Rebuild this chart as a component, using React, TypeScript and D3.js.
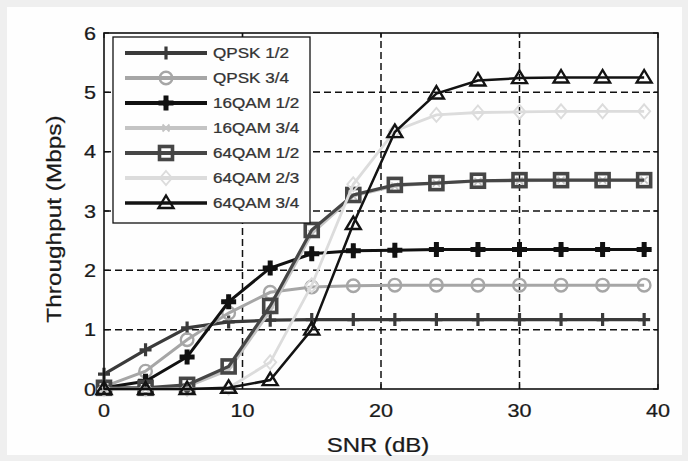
import React from 'react';
import * as d3 from 'd3';

const snr = [0, 3, 6, 9, 12, 15, 18, 21, 24, 27, 30, 33, 36, 39];
const qpsk12 = [0.25, 0.66, 1.03, 1.13, 1.16, 1.17, 1.17, 1.17, 1.17, 1.17, 1.17, 1.17, 1.17, 1.17];
const qpsk34 = [0.04, 0.3, 0.83, 1.28, 1.63, 1.72, 1.74, 1.75, 1.75, 1.75, 1.75, 1.75, 1.75, 1.75];
const qam16_12 = [0.02, 0.13, 0.54, 1.47, 2.04, 2.28, 2.33, 2.34, 2.35, 2.35, 2.35, 2.35, 2.35, 2.35];
const qam16_34 = [0.0, 0.01, 0.04, 0.32, 1.32, 2.62, 3.25, 3.42, 3.47, 3.5, 3.51, 3.52, 3.52, 3.52];
const qam64_12 = [0.02, 0.02, 0.07, 0.38, 1.4, 2.68, 3.27, 3.44, 3.47, 3.51, 3.52, 3.52, 3.52, 3.52];
const qam64_23 = [0.0, 0.0, 0.0, 0.02, 0.45, 1.75, 3.45, 4.35, 4.62, 4.66, 4.67, 4.68, 4.68, 4.68];
const qam64_34 = [0.0, 0.0, 0.0, 0.02, 0.15, 1.0, 2.78, 4.33, 4.98, 5.2, 5.24, 5.25, 5.25, 5.25];

const seriesNames = ['QPSK 1/2', 'QPSK 3/4', '16QAM 1/2', '16QAM 3/4', '64QAM 1/2', '64QAM 2/3', '64QAM 3/4'];
const seriesValues = [qpsk12, qpsk34, qam16_12, qam16_34, qam64_12, qam64_23, qam64_34];
const seriesColors = ['#3a3a3a', '#a6a6a6', '#111111', '#c4c4c4', '#464646', '#dcdcdc', '#131313'];
const seriesMarkers = ['plus', 'circle', 'star', 'x', 'square', 'diamond', 'triangle'];
const seriesWidths = [3.2, 3, 3, 3, 3.2, 2.8, 2.5];

const xTicks = [0, 10, 20, 30, 40];
const yTicks = [0, 1, 2, 3, 4, 5, 6];

const W = 688;
const H = 461;
const FONT = "'Liberation Sans', Arial, Helvetica, sans-serif";

const x = d3.scaleLinear().domain([0, 40]).range([104, 658]);
const y = d3.scaleLinear().domain([0, 6]).range([389, 33]);

function SText(props: any) {
  const { x: tx, y: ty, anchor = 'start', size = 14, sx = 1.2, rotate = false, children, fill = '#1a1a1a' } = props;
  return (
    <text
      transform={`translate(${tx},${ty})${rotate ? ' rotate(-90)' : ''} scale(${sx},1)`}
      textAnchor={anchor}
      fontSize={size}
      fontFamily={FONT}
      fill={fill}
      stroke={fill}
      strokeWidth={0.25}
    >
      {children}
    </text>
  );
}

function Marker(props: any) {
  const { kind, cx, cy, color } = props;
  const t = `translate(${cx},${cy})`;
  switch (kind) {
    case 'plus':
      return <path transform={t} d="M0,-6.5V6.5M-6,0H6" stroke={color} strokeWidth={3.2} fill="none" />;
    case 'circle':
      return <circle cx={cx} cy={cy} r={6.3} stroke={color} strokeWidth={2.4} fill="none" />;
    case 'star':
      return (
        <g transform={t}>
          <path d={d3.symbol().type(d3.symbolCross).size(125)() as string} fill={color} />
          <path d="M0,-7.5L3.5,0L0,7.5L-3.5,0Z M-7.5,0L0,-3.5L7.5,0L0,3.5Z" fill={color} />
        </g>
      );
    case 'x':
      return <path transform={t} d="M-3.5,-3.5L3.5,3.5M-3.5,3.5L3.5,-3.5" stroke={color} strokeWidth={1.8} fill="none" />;
    case 'square':
      return <rect x={cx - 6.5} y={cy - 6.5} width={13} height={13} stroke={color} strokeWidth={3.6} fill="none" />;
    case 'diamond':
      return <path transform={t} d="M0,-7L6,0L0,7L-6,0Z" stroke={color} strokeWidth={1.9} fill="none" />;
    case 'triangle':
      return <path transform={t} d="M0,-7.5L7.5,5L-7.5,5Z" stroke={color} strokeWidth={2.4} fill="none" strokeLinejoin="miter" />;
    default:
      return null;
  }
}

export default function App() {
  const line = d3
    .line<number>()
    .x((_, i) => x(snr[i]))
    .y((d) => y(d));

  const [x0, x1] = x.range();
  const [y0, y1] = y.range();

  const legX = 113;
  const legY = 37;
  const legW = 197;
  const legH = 186;
  const rowY = (i: number) => 53 + 25 * i;

  return (
    <svg width={W} height={H} style={{ position: 'absolute', left: 0, top: 0 }} xmlns="http://www.w3.org/2000/svg">
      <rect x={0} y={0} width={W} height={H} fill="#efefef" />
      <rect x={7} y={7} width={W - 13} height={H - 13} fill="#fefefe" />

      {/* grid */}
      <g stroke="#111" strokeWidth={1.5} strokeDasharray="7,4" fill="none">
        {xTicks.slice(1, -1).map((t) => (
          <line key={'gx' + t} x1={x(t)} x2={x(t)} y1={y0} y2={y1} />
        ))}
        {yTicks.slice(1, -1).map((t) => (
          <line key={'gy' + t} x1={x0} x2={x1} y1={y(t)} y2={y(t)} />
        ))}
      </g>

      {/* series */}
      {seriesValues.map((vals, si) => (
        <g key={'s' + si}>
          <path d={line(vals) as string} stroke={seriesColors[si]} strokeWidth={seriesWidths[si]} fill="none" />
          {vals.map((v, i) => (
            <Marker key={i} kind={seriesMarkers[si]} cx={x(snr[i])} cy={y(v)} color={seriesColors[si]} />
          ))}
        </g>
      ))}

      {/* axes frame */}
      <rect x={x0} y={y1} width={x1 - x0} height={y0 - y1} fill="none" stroke="#111" strokeWidth={1.6} />
      <g stroke="#111" strokeWidth={1.2}>
        {xTicks.map((t) => (
          <g key={'tx' + t}>
            <line x1={x(t)} x2={x(t)} y1={y0} y2={y0 - 5} />
            <line x1={x(t)} x2={x(t)} y1={y1} y2={y1 + 5} />
          </g>
        ))}
        {yTicks.map((t) => (
          <g key={'ty' + t}>
            <line x1={x0} x2={x0 + 5} y1={y(t)} y2={y(t)} />
            <line x1={x1} x2={x1 - 5} y1={y(t)} y2={y(t)} />
          </g>
        ))}
      </g>

      {/* tick labels */}
      {xTicks.map((t) => (
        <SText key={'lx' + t} x={x(t)} y={417} anchor="middle" size={18} sx={1.2}>
          {t}
        </SText>
      ))}
      {yTicks.map((t) => (
        <SText key={'ly' + t} x={96} y={y(t) + 6.5} anchor="end" size={18} sx={1.2}>
          {t}
        </SText>
      ))}

      {/* axis labels */}
      <SText x={(x0 + x1) / 2 - 3} y={452} anchor="middle" size={20} sx={1.2}>
        SNR (dB)
      </SText>
      <SText x={61} y={(y0 + y1) / 2 + 8} anchor="middle" size={20} sx={1.22} rotate>
        Throughput (Mbps)
      </SText>

      {/* legend */}
      <rect x={legX} y={legY} width={legW} height={legH} fill="#fefefe" stroke="#111" strokeWidth={1.3} />
      {seriesNames.map((name, i) => (
        <g key={'leg' + i}>
          <line x1={125} x2={207} y1={rowY(i)} y2={rowY(i)} stroke={seriesColors[i]} strokeWidth={seriesWidths[i] + 1} />
          <Marker kind={seriesMarkers[i]} cx={166} cy={rowY(i)} color={seriesColors[i]} />
          <SText x={213} y={rowY(i) + 5} size={14} sx={1.22} fill="#333">
            {name}
          </SText>
        </g>
      ))}
    </svg>
  );
}
